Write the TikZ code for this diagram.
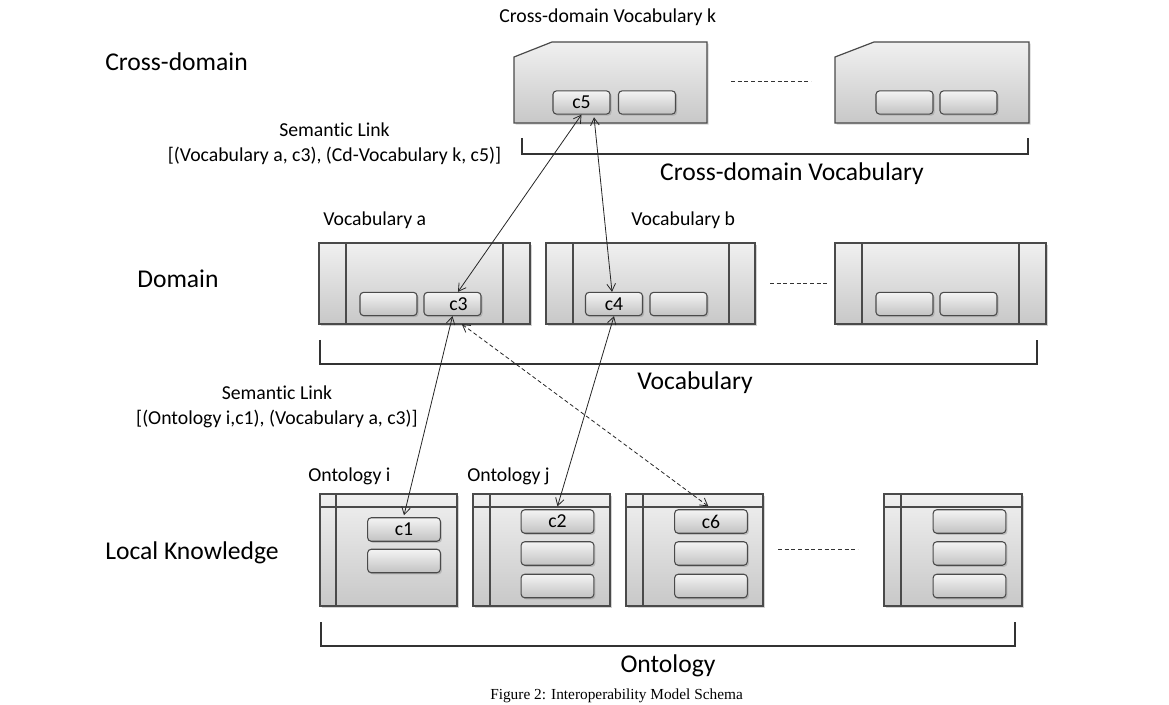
\documentclass[tikz,border=0pt]{standalone}
\usepackage{fontspec}
\setmainfont{Carlito}[Ligatures=NoCommon]
\newfontfamily\capfont{Liberation Serif}
\usetikzlibrary{arrows.meta,shadows}
\definecolor{edge}{HTML}{4A4A4A}
\definecolor{boxtop}{HTML}{F0F0F0}
\definecolor{boxbot}{HTML}{C8C8C8}
\definecolor{btntop}{HTML}{F4F4F4}
\definecolor{btnbot}{HTML}{C2C2C2}
\tikzset{
  shd/.style={drop shadow={opacity=0.35, shadow xshift=1.2pt, shadow yshift=-1.2pt}},
  panel/.style={draw=edge, line width=0.9pt, top color=boxtop, bottom color=boxbot, shd},
  inner/.style={draw=edge, line width=0.9pt},
  btn/.style={draw=edge, line width=0.8pt, rounded corners=2.6pt, top color=btntop, bottom color=btnbot, shd,
              inner sep=0pt, minimum width=42.75pt, minimum height=17.4pt, font=\fontsize{14.8}{16}\selectfont},
  obtn/.style={btn, minimum width=54.5pt, minimum height=17.6pt},
  big/.style={inner sep=0pt, font=\fontsize{19.2}{22}\selectfont},
  small/.style={inner sep=0pt, font=\fontsize{14.8}{18.75}\selectfont},
  conn/.style={{Straight Barb[length=5.5pt,width=6.5pt]}-{Straight Barb[length=5.5pt,width=6.5pt]}, line width=0.6pt, draw=black!85},
  brk/.style={draw=black!80, line width=0.8pt},
  gap/.style={draw=black!80, line width=0.6pt, dash pattern=on 3pt off 2pt},
}
\begin{document}
\begin{tikzpicture}[x=0.75pt,y=-0.75pt]
\useasboundingbox (0,0) rectangle (1169,705);

% ---------- level labels ----------
\node[big, anchor=west] (lcross) at (105,62) {Cross-domain};
\node[big, anchor=west] (ldom) at (137,279) {Domain};
\node[big, anchor=west] (lloc) at (105,553) {Local Knowledge};

% ---------- cross-domain vocabularies ----------
\node[small, anchor=west] (tcdk) at (499,17) {Cross-domain Vocabulary k};
\path[panel] (514,57) -- (552,42) -- (707,42) -- (707,123) -- (514,123) -- cycle;
\path[panel] (835,57) -- (874,42) -- (1029,42) -- (1029,123) -- (835,123) -- cycle;
\node[btn] (c5) at (581.5,102.5) {c5};
\node[btn] (k2) at (647,102.5) {};
\node[btn] (x21) at (904.5,102.5) {};
\node[btn] (x22) at (968.5,102.5) {};
\draw[gap] (731,81) -- (811,81);
\draw[brk] (522,138) -- (522,154) -- (1028,154) -- (1028,138);
\node[big] (tcdv) at (792,174) {Cross-domain Vocabulary};

\node[small, align=center] (sl1) at (334.5,143.5) {Semantic Link\\{[}(Vocabulary a, c3), (Cd-Vocabulary k, c5)]};

% ---------- domain vocabularies ----------
\node[small, anchor=west] (tva) at (323,220) {Vocabulary a};
\node[small, anchor=west] (tvb) at (631,220) {Vocabulary b};
\path[panel] (319,243) rectangle (530,324);
\draw[inner] (346,243) -- (346,324) (503,243) -- (503,324);
\path[panel] (546,243) rectangle (755,324);
\draw[inner] (573,243) -- (573,324) (729,243) -- (729,324);
\path[panel] (835,243) rectangle (1046,324);
\draw[inner] (862,243) -- (862,324) (1019,243) -- (1019,324);
\node[btn] (a1) at (388.5,304) {};
\node[btn] (c3) at (452.5,304) {\hspace*{9pt}c3};
\node[btn] (c4) at (614,304) {c4};
\node[btn] (b2) at (678.5,304) {};
\node[btn] (d31) at (904.5,304) {};
\node[btn] (d32) at (968.5,304) {};
\draw[gap] (770,283) -- (828,283);
\draw[brk] (320,340) -- (320,364) -- (1037,364) -- (1037,340);
\node[big] (tvoc) at (695,383) {Vocabulary};

\node[small, align=center] (sl2) at (277,406.5) {Semantic Link\\{[}(Ontology i,c1), (Vocabulary a, c3)]};

% ---------- ontologies ----------
\node[small, anchor=west] (toi) at (308,476) {Ontology i};
\node[small, anchor=west] (toj) at (467,476) {Ontology j};
\path[panel] (320,494) rectangle (457,606);
\draw[inner] (320,507) -- (457,507) (336,494) -- (336,606);
\path[panel] (473,494) rectangle (610,606);
\draw[inner] (473,507) -- (610,507) (490,494) -- (490,606);
\path[panel] (626,494) rectangle (763,606);
\draw[inner] (626,507) -- (763,507) (643,494) -- (643,606);
\path[panel] (884,494) rectangle (1022,606);
\draw[inner] (884,507) -- (1022,507) (901,494) -- (901,606);
\node[obtn] (c1) at (404,529.5) {c1};
\node[obtn] (i2) at (404,561) {};
\node[obtn] (c2) at (557.5,521.5) {c2};
\node[obtn] (j2) at (557.5,553.5) {};
\node[obtn] (j3) at (557.5,586) {};
\node[obtn] (c6) at (711,521.5) {c6};
\node[obtn] (k62) at (711,553.5) {};
\node[obtn] (k63) at (711,586) {};
\node[obtn] (o41) at (969.5,521.5) {};
\node[obtn] (o42) at (969.5,553.5) {};
\node[obtn] (o43) at (969.5,586) {};
\draw[gap] (778,549) -- (858,549);
\draw[brk] (321,622) -- (321,646) -- (1015,646) -- (1015,622);
\node[big] (tont) at (668,666) {Ontology};

% ---------- semantic links ----------
\draw[conn] (c5.south) -- ([xshift=4.1pt]c3.north);
\draw[conn] ([xshift=9.4pt,yshift=-2pt]c5.south) -- ([xshift=-1.5pt]c4.north);
\draw[conn] (c3.south) -- ([yshift=1.5pt]c1.north);
\draw[conn] (c4.south) -- ([yshift=2.2pt]c2.north);
\draw[conn, dash pattern=on 3pt off 2pt] ([xshift=7pt,yshift=-6pt]c3.south) -- ([xshift=-2pt,yshift=2.2pt]c6.north);

% ---------- caption ----------
\node[anchor=base west, inner sep=0pt, font=\capfont\fontsize{11.5}{13}\selectfont] (cap) at (490,699.5) {Figure 2: Interoperability Model Schema};
\end{tikzpicture}
\end{document}
